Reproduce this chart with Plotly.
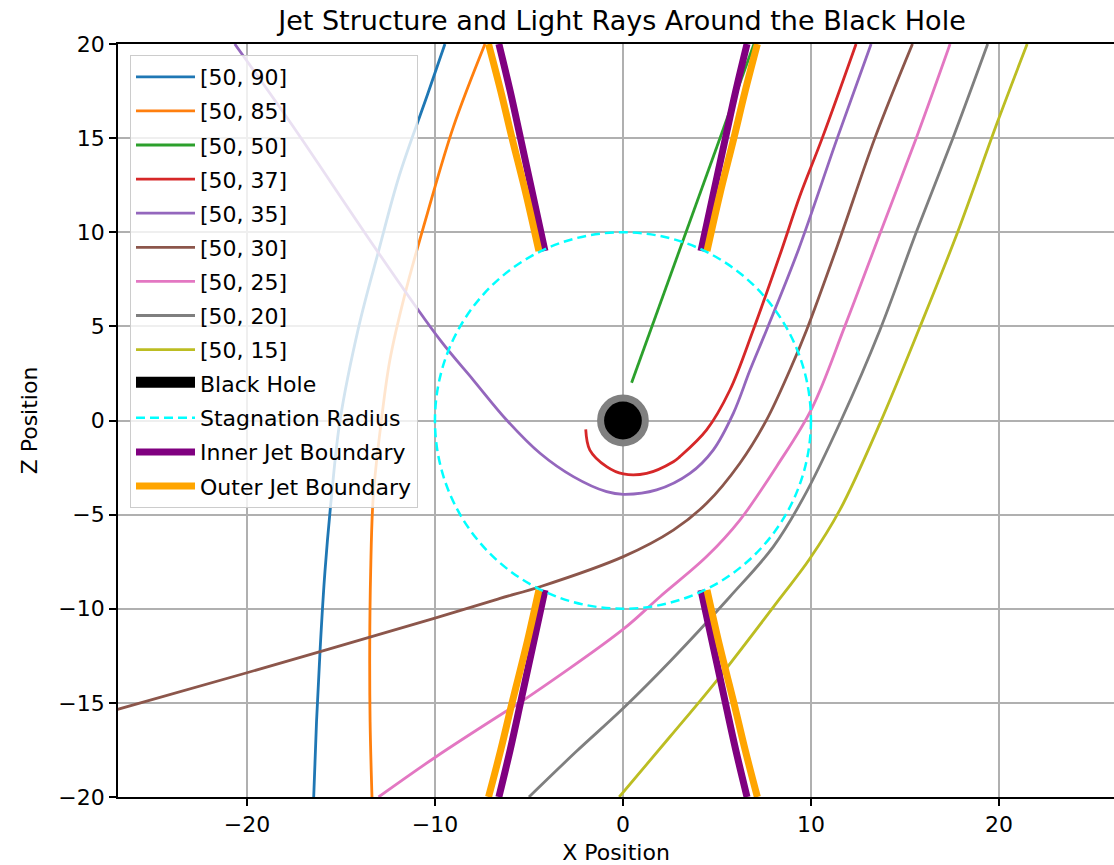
import plotly.graph_objects as go

# ---------------- data ----------------
ray_labels = ["[50, 90]", "[50, 85]", "[50, 50]", "[50, 37]", "[50, 35]",
              "[50, 30]", "[50, 25]", "[50, 20]", "[50, 15]"]

ray90_x = [-16.45, -16.3, -16.1, -15.85, -15.5, -15.05, -14.05, -13.0, -11.9, -10.4, -9.47]
ray90_z = [-20, -16, -12, -8, -4, 0, 5, 9, 13, 17.3, 20]

ray85_x = [-13.35, -13.45, -13.47, -13.42, -13.28, -12.85, -12.4, -11.6, -10.36, -9.02, -7.34]
ray85_z = [-20, -16, -12, -8, -4, 0, 3.2, 6.7, 11.15, 15.6, 20]

ray50_x = [0.46, 6.97]
ray50_z = [2.0, 20]

ray37_x = [-1.98, -1.76, -0.87, 0.02, 1.26, 2.68, 3.03, 4.45, 5.69, 6.93, 8.44, 9.4, 10.6, 12.4]
ray37_z = [-0.47, -1.57, -2.45, -2.84, -2.81, -2.19, -1.92, -0.5, 1.62, 4.81, 9.06, 11.9, 15, 20]

ray35_x = [-20.65, -17.7, -13.0, -9.73, -7.96, -6.19, -4.41, -2.64, -0.87, 0.02, 1.79, 3.56,
           4.8, 5.87, 6.76, 7.64, 9.33, 11.4, 13.2]
ray35_z = [20, 15.84, 8.9, 4.28, 2.15, 0.03, -1.74, -2.98, -3.78, -3.92, -3.69, -2.81,
           -1.57, 0.38, 2.68, 4.81, 9.06, 15, 20]

ray30_x = [-26.9, -20, -10, -6.54, -4.41, 0.02, 2.68, 4.45, 6.22, 7.64, 8.88, 9.77, 11.45, 13.4, 15.4]
ray30_z = [-15.35, -13.4, -10.5, -9.45, -8.83, -7.23, -5.82, -4.4, -2.27, 0.03, 2.68, 4.81,
           9.4, 15, 20]

ray25_x = [-13.0, -10.0, -6.3, -5.5, 0, 1.97, 4.45, 6.22, 8.2, 10.05, 11.8, 13.7, 15.6, 17.4]
ray25_z = [-20, -17.9, -15.5, -15.0, -11.1, -9.36, -7.23, -5.29, -2.4, 0.65, 5.0, 10, 15, 20]

ray20_x = [-5.0, -2.5, 0, 2.5, 5.69, 8.0, 9.6, 11.6, 13.67, 15.6, 17.55, 19.4]
ray20_z = [-20, -17.6, -15.3, -12.8, -9.36, -6.7, -4.1, 0.0, 4.81, 10, 15, 20]

ray15_x = [-0.2, 2.5, 5.0, 8.35, 9.9, 11.54, 13.67, 15.8, 17.8, 19.9, 21.5]
ray15_z = [-20, -16.8, -13.8, -9.45, -7.4, -4.75, -0.15, 4.98, 10, 15.8, 20]

ray_xs = [ray90_x, ray85_x, ray50_x, ray37_x, ray35_x, ray30_x, ray25_x, ray20_x, ray15_x]
ray_zs = [ray90_z, ray85_z, ray50_z, ray37_z, ray35_z, ray30_z, ray25_z, ray20_z, ray15_z]
ray_colors = ["#1f77b4", "#ff7f0e", "#2ca02c", "#d62728", "#9467bd",
              "#8c564b", "#e377c2", "#7f7f7f", "#bcbd22"]

# jet boundaries (|x| as function of |z|), mirrored into four branches
jet_z = [9.0, 12.0, 15.0, 17.5, 20.0]
jet_inner_x = [4.15, 4.8, 5.45, 6.0, 6.6]
jet_outer_x = [4.47, 5.15, 5.9, 6.5, 7.15]

black_hole_radius = 1.0
stagnation_radius = 10.0

# ---------------- figure ----------------
fig = go.Figure()

for i, (lab, xs, zs, col) in enumerate(zip(ray_labels, ray_xs, ray_zs, ray_colors)):
    fig.add_trace(go.Scatter(x=xs, y=zs, mode="lines", name=lab, legendgroup=f"g{i}",
                             line=dict(color=col, width=2.8, shape="spline", smoothing=1.0)))

# legend-only entries for the black hole and stagnation radius (drawn as shapes)
fig.add_trace(go.Scatter(x=[None], y=[None], mode="lines", name="Black Hole", legendgroup="bh",
                         fill="toself", fillcolor="black",
                         line=dict(color="black", width=14)))
fig.add_trace(go.Scatter(x=[None], y=[None], mode="lines", name="Stagnation Radius",
                         legendgroup="sr",
                         line=dict(color="#00ffff", width=2.5, dash="9px,5px")))


def branches(xv):
    bx, bz = [], []
    for sx in (-1, 1):
        for sz in (1, -1):
            bx += [sx * v for v in xv] + [None]
            bz += [sz * v for v in jet_z] + [None]
    return bx, bz


ix, iz = branches(jet_inner_x)
ox, oz = branches(jet_outer_x)
fig.add_trace(go.Scatter(x=ix, y=iz, mode="lines", name="Inner Jet Boundary", legendgroup="ij",
                         line=dict(color="#800080", width=7, shape="spline", smoothing=1.0)))
fig.add_trace(go.Scatter(x=ox, y=oz, mode="lines", name="Outer Jet Boundary", legendgroup="oj",
                         line=dict(color="#ffa500", width=7, shape="spline", smoothing=1.0)))

# black hole with grey rim
rim = 0.19
fig.add_shape(type="circle", xref="x", yref="y",
              x0=-(black_hole_radius + rim), x1=black_hole_radius + rim,
              y0=-(black_hole_radius + rim), y1=black_hole_radius + rim,
              fillcolor="black", line=dict(color="#808080", width=7), layer="above")
# stagnation radius
fig.add_shape(type="circle", xref="x", yref="y",
              x0=-stagnation_radius, x1=stagnation_radius,
              y0=-stagnation_radius, y1=stagnation_radius,
              line=dict(color="#00ffff", width=2.5, dash="9px,5px"), layer="above")

axis_common = dict(showgrid=True, gridcolor="#b0b0b0", gridwidth=1.5,
                   zeroline=False, showline=True, linecolor="black", linewidth=1.8,
                   ticks="outside", ticklen=7, tickwidth=1.8, tickcolor="black",
                   tickfont=dict(size=22, color="black"))

fig.update_xaxes(range=[-26.86, 26.12], tickvals=[-20, -10, 0, 10, 20], mirror=True,
                 title=dict(text="X Position", font=dict(size=22), standoff=8),
                 **axis_common)
fig.update_yaxes(range=[-20, 20], tickvals=[-20, -15, -10, -5, 0, 5, 10, 15, 20], mirror=False,
                 title=dict(text="Z Position", font=dict(size=22), standoff=15),
                 **axis_common)

fig.update_layout(
    width=1114, height=865,
    margin=dict(l=118, r=0, t=44, b=68),
    plot_bgcolor="white", paper_bgcolor="white",
    font=dict(family="DejaVu Sans", size=22, color="black"),
    title=dict(text="Jet Structure and Light Rays Around the Black Hole",
               x=622 / 1114, xref="container", xanchor="center",
               y=1 - 21 / 865, yref="container", yanchor="middle",
               font=dict(size=27, color="black")),
    legend=dict(x=12 / 996, y=1 - 11 / 753, xanchor="left", yanchor="top",
                bgcolor="rgba(255,255,255,0.8)", bordercolor="#cccccc", borderwidth=1,
                font=dict(size=22, color="black"), itemwidth=59,
                traceorder="grouped", tracegroupgap=2.5),
)

fig.write_html("out.html")
